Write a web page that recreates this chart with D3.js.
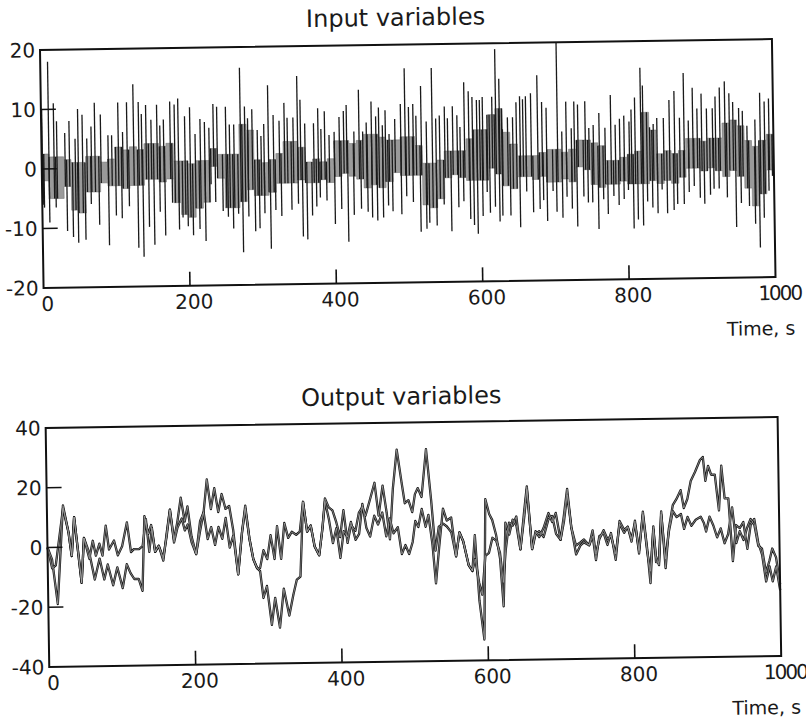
<!DOCTYPE html>
<html>
<head>
<meta charset="utf-8">
<script src="https://cdn.jsdelivr.net/npm/d3@7"></script>
<style>
  body { margin: 0; background: #fff; }
  text { font-family: "DejaVu Sans", sans-serif; fill: #1a1a1a; }
</style>
</head>
<body>
<svg id="chart" width="806" height="719"></svg>
<script>
// --- Data ---
const timeDomain = [0, 1000];
const timeTicks = [0, 200, 400, 600, 800, 1000];

const inputTicksY = [-20, -10, 0, 10, 20];
const outputTicksY = [-40, -20, 0, 20, 40];

// grey band of the input signals, one value per 10 s bin (upper / lower edge)
const inputBandHi = [2.5,2,2,1.5,1,1,2,2,1,1.5, 3.5,3,3.5,3,4,4,3.5,4,1,1, 0.5,1,1,3,2,2,2,7,6,1,
  0.5,1,2,4,4,3,0.5,1,0.5,1, 4,4,3.5,4,5,5,4.5,4,4,4.5, 4.5,3,0,0,0.5,2,2,2,4,5.5,
  5.5,8,9,5,3,1,1,1,1.5,2, 2,1.5,2,3.5,3.5,3,2.5,0,0,0.5, 1,1.5,8,5,1,1.5,1,1.5,3.5,3.5,
  3,3.5,3.5,6,6.5,5.5,3,2,3,4];
const inputBandLo = [-2,-5,-5,-3,-7,-7.5,-4,-4,-2.5,-3, -3,-3.5,-3,-3,-2,-2,-2.5,-2,-6,-8, -8.5,-7,-6,0,-2,-7,-7,-6,-4,-5,
  -5,-4.5,-3,-3,-3,-2.5,-3,-3,-2.5,-3, -2,-1.5,-2,-2.5,-4,-3.5,-4,-3,-1.5,-2, -2,-2,-7,-7.5,-6,-2.5,-2,-2.5,-3,-3,
  -3,-1,-2,-4,-4.5,-2.5,-2.5,-3,-2.5,-3.5, -3.5,-3,-3.5,-1,-1.5,-4,-4.5,-4,-4,-3.5, -4,-4,-4,-3.5,-4,-3.5,-4,-3,-1.5,-1.5,
  -2,-1.5,-2,-3,-2,-3,-5,-8,-6,-2];

// spike tips of the input signals [time, value]
const inputSpikesUp = [[1,10],[10,18],[17,11],[21,8],[32,6],[38,8],[46,5],[50,10],[56,9],[62,5],[68,7],[73,11],[81,9],[91,5.5],[96,5.5],
  [105,11],[111,6],[117,11],[126,14],[133,11],[137,9],[143,10.5],[150,8],[158,10.5],[162,7],[167,8],[176,11],[182,10.5],[187,11.5],
  [196,8.5],[203,10],[210,5.5],[217,8],[223,7.5],[229,6.5],[235,10.5],[240,10],[252,10],[257,7],[263,7],[272,16.5],[278,10],[282,8],
  [288,9.5],[295,6],[300,5],[304,7],[310,13.5],[317,8.5],[325,7.5],[332,10.5],[336,8],[344,8],[350,15],[354,11],[360,7],[372,7],
  [378,9.5],[382,6],[387,9],[393,5],[400,5.5],[407,8],[413,9],[417,10],[427,5.5],[434,12.5],[439,5.5],[444,7],[451,10.5],[457,8],
  [461,9.5],[466,6.5],[470,9],[475,5],[483,7.5],[491,10],[497,16],[502,9.5],[508,10],[512,8],[519,13],[526,7],[534,16],[539,7.5],
  [544,8],[551,9.5],[555,7.5],[562,9.5],[568,8],[572,6],[578,13.5],[584,12],[589,11],[595,10.5],[599,10.5],[603,11],[609,8],[616,11],
  [621,19],[626,14],[630,5.5],[637,7.5],[644,7.5],[649,10],[654,11],[658,10.5],[662,11],[669,11.5],[678,14.5],[684,10],[690,9],
  [705,21],[711,5],[717,10],[724,5.5],[728,10],[733,9.5],[743,10],[748,5.5],[754,6],[762,8],[770,5.5],[778,11],[784,6],[790,7],
  [796,7.5],[803,6.5],[806,8.5],[811,10.5],[819,15.5],[822,12.5],[831,5.5],[836,6],[841,7],[850,7],[858,10],[865,11.5],[872,7],
  [878,14.5],[884,6.5],[890,12],[896,8.5],[902,11],[909,8.5],[917,8.5],[921,10.5],[927,12],[934,13],[940,11],[945,9.5],[953,8.5],
  [958,8],[964,5.5],[975,6.5],[982,11],[988,9.5],[994,10]];
const inputSpikesDown = [[2,-6],[3,-6.5],[10,-9],[19,-6.5],[34,-10.5],[42,-11.5],[49,-12.5],[59,-12],[67,-6],[78,-9.5],[91,-13],
  [101,-8],[109,-8.5],[119,-6.5],[131,-13.5],[138,-15],[146,-10],[153,-13],[161,-7.5],[168,-11.5],[178,-6],[187,-10.5],[192,-8.5],
  [199,-10],[206,-11.5],[215,-10.5],[223,-12.5],[231,-3],[237,-6],[247,-7.5],[254,-8.5],[261,-10.5],[268,-8],[274,-14.5],[282,-8.5],
  [291,-11],[297,-10.5],[304,-8],[312,-14],[319,-7.5],[327,-8.5],[341,-7.5],[350,-6.5],[356,-12],[362,-12.5],[369,-8.5],[375,-7],
  [380,-5.5],[389,-6],[400,-10],[409,-7.5],[418,-13],[426,-8.5],[436,-7.5],[445,-8],[451,-9],[458,-9.5],[466,-9],[473,-7],[479,-8],
  [491,-8.5],[498,-5.5],[507,-6.5],[517,-11.5],[525,-11],[529,-10],[539,-10.5],[549,-7],[559,-11.5],[569,-7.5],[576,-6.5],[585,-9.5],
  [590,-10.5],[595,-12],[602,-9],[608,-5],[612,-8.5],[619,-7.5],[625,-10],[629,-9],[640,-9],[653,-11],[662,-5],[671,-8.5],[680,-8],
  [685,-6.5],[690,-10],[698,-5],[703,-8.5],[711,-9.5],[717,-6],[724,-8],[731,-11],[740,-6],[746,-7],[752,-7],[760,-11.5],[767,-6.5],
  [773,-9],[781,-6],[788,-7.5],[795,-6.5],[801,-5],[808,-11.5],[814,-10],[821,-11],[827,-7],[834,-8],[841,-9],[847,-5],[854,-9],
  [863,-8.5],[868,-7.5],[877,-7.5],[884,-5.5],[891,-4.5],[899,-6.5],[905,-7.5],[913,-6],[918,-5],[925,-5],[936,-6.5],[948,-11.5],
  [955,-7.5],[966,-8],[974,-11],[980,-15],[986,-10],[993,-5.5],[998,-3]];

// output variables [time, value]
const outputA = [[0,0],[6,-4],[13,-19],[22,14],[29,5],[33,-3],[37,10],[46,-12],[50,3],[57,-2],[64,-11],[71,-4],[77,-11],[82,-6],
  [89,-13],[95,-7],[102,-14],[108,-6],[113,-9],[118,-11],[124,-11],[129,-15],[133,10],[138,4],[142,7],[147,-2],[152,0],[158,-5],
  [163,4],[168,12],[173,2],[178,8],[183,16],[188,8],[192,13],[197,3],[203,-3],[209,8],[214,11],[219,22],[224,12],[229,19],[234,11],
  [239,17],[244,12],[249,13],[254,5],[260,-10],[266,4],[271,13],[276,2],[281,-5],[286,-8],[290,-9],[294,-18],[299,-14],[305,-27],
  [310,-18],[316,-28],[322,-15],[329,-24],[335,-17],[340,-12],[345,-11],[350,14],[355,4],[360,6],[365,-1],[371,-4],[376,5],[380,15],
  [385,12],[390,11],[395,7],[400,2],[405,11],[410,0],[415,6],[421,4],[426,10],[431,12],[435,9],[441,14],[448,20],[453,9],[459,19],
  [464,10],[468,1],[473,18],[479,31],[485,20],[489,13],[494,14],[499,10],[503,16],[507,18],[512,15],[519,31],[525,14],[530,-3],
  [535,5],[541,6],[546,5],[552,3],[558,-5],[563,3],[568,0],[575,-8],[580,-10],[584,2],[589,-20],[595,-33],[599,14],[604,9],[608,7],
  [613,2],[618,-6],[622,-22],[626,6],[631,2],[636,7],[641,5],[646,-3],[652,10],[656,18],[662,-3],[667,3],[672,1],[678,4],[685,9],
  [690,6],[695,9],[701,0],[706,8],[711,17],[716,4],[722,-5],[728,-2],[733,-1],[740,-2],[745,1],[749,-7],[754,1],[760,2],[765,-2],
  [770,2],[776,-7],[782,6],[788,3],[793,4],[798,-1],[803,6],[808,-5],[814,9],[819,-3],[823,-15],[828,4],[831,-8],[835,-8],[839,9],
  [844,-10],[849,3],[855,11],[860,13],[866,16],[870,10],[875,13],[880,19],[886,22],[893,26],[897,27],[900,19],[904,24],[908,21],
  [913,21],[918,9],[922,24],[926,13],[931,13],[936,-8],[941,4],[946,3],[951,5],[956,-4],[961,4],[966,6],[971,-2],[976,-6],[981,-15],
  [986,-10],[990,-15],[995,-10],[1000,-18]];
const outputB = [[0,0],[6,-7],[11,-6],[22,13],[29,5],[33,-3],[37,10],[46,-12],[50,3],[57,-4],[62,2],[66,-3],[71,1],[75,-3],[80,7],
  [84,-1],[91,2],[96,-3],[102,0],[109,8],[114,-2],[118,-1],[125,-1],[130,0],[135,9],[139,-2],[143,6],[147,-2],[152,0],[158,-4],
  [163,3],[168,12],[173,1],[178,6],[184,9],[188,5],[192,7],[197,1],[203,-3],[209,5],[214,11],[219,2],[224,6],[229,0],[234,6],[239,2],
  [244,9],[249,-1],[254,3],[260,-10],[266,4],[271,12],[276,2],[281,-5],[286,-8],[290,-8],[295,-2],[300,-5],[305,3],[310,-5],[314,6],
  [319,-5],[324,7],[329,2],[334,4],[340,3],[345,4],[350,14],[355,4],[360,6],[365,-1],[371,-4],[376,5],[380,14],[385,8],[390,0],
  [395,5],[400,-5],[405,4],[410,2],[415,7],[421,1],[426,3],[431,13],[436,5],[441,2],[447,9],[452,6],[458,10],[463,2],[468,8],[473,3],
  [479,5],[484,-4],[489,-1],[494,-4],[499,0],[503,7],[507,5],[512,11],[517,5],[521,9],[526,-1],[530,-14],[535,-2],[541,11],[546,7],
  [552,8],[558,-5],[563,3],[568,0],[575,-8],[580,-10],[584,-6],[589,-14],[593,-18],[598,-5],[603,-4],[608,1],[613,0],[618,-4],
  [622,-14],[626,-3],[631,6],[636,5],[641,8],[646,-3],[652,8],[656,17],[662,-3],[667,2],[672,3],[678,1],[685,7],[690,8],[695,2],
  [701,0],[706,6],[711,15],[716,4],[722,-2],[728,-1],[733,0],[740,-2],[745,3],[749,-5],[754,0],[760,3],[765,0],[770,1],[776,-5],
  [782,5],[788,2],[793,4],[798,0],[803,5],[808,-4],[814,8],[819,-4],[823,-11],[828,3],[831,-6],[835,-9],[839,8],[844,-7],[849,2],
  [855,9],[860,7],[866,8],[870,3],[875,7],[880,4],[886,6],[893,7],[897,5],[900,2],[905,7],[910,4],[915,0],[920,3],[925,-2],[930,1],
  [936,10],[941,-2],[946,2],[951,-1],[956,3],[961,6],[966,4],[971,-3],[976,-4],[981,-12],[986,-8],[990,-4],[995,-7],[1000,-16]];

// --- Setup ---
const svg = d3.select("#chart");
// the scan is slightly tilted
const root = svg.append("g").attr("transform", "rotate(-0.86,40,50)");

const x = d3.scaleLinear().domain(timeDomain).range([40, 772]);
const yIn = d3.scaleLinear().domain([-20, 20]).range([288, 50]);
const yOut = d3.scaleLinear().domain([-40, 40]).range([667, 428]);

// --- Frame, ticks and labels for one panel ---
function drawPanel(y, title, titleBaseline, yTicks) {
    const [bottom, top] = y.range();
    const g = root.append("g");

    g.append("text").attr("x", 396).attr("y", titleBaseline)
        .attr("text-anchor", "middle").style("font-size", "24px").text(title);

    g.append("rect").attr("x", x(0)).attr("y", top)
        .attr("width", x(1000) - x(0)).attr("height", bottom - top)
        .attr("fill", "none").attr("stroke", "#111").attr("stroke-width", 2);

    // inward ticks
    yTicks.slice(1, -1).forEach(v => {
        g.append("line").attr("x1", x(0)).attr("x2", x(0) + 15)
            .attr("y1", y(v)).attr("y2", y(v)).attr("stroke", "#111").attr("stroke-width", 1.6);
    });
    timeTicks.slice(1, -1).forEach(t => {
        g.append("line").attr("x1", x(t)).attr("x2", x(t))
            .attr("y1", bottom).attr("y2", bottom - 14).attr("stroke", "#111").attr("stroke-width", 1.6);
    });

    yTicks.forEach(v => {
        g.append("text").attr("x", 35).attr("y", y(v)).attr("dy", "0.36em")
            .attr("text-anchor", "end").style("font-size", "20px").text(v);
    });
    timeTicks.forEach(t => {
        g.append("text").attr("x", x(t) + 4).attr("y", bottom + 23)
            .attr("text-anchor", "middle").style("font-size", "20px")
            .style("letter-spacing", t >= 1000 ? "-2px" : null)
            .text(t);
    });
    g.append("text").attr("x", 791).attr("y", bottom + 58)
        .attr("text-anchor", "end").style("font-size", "19px").text("Time, s");
}

// --- Input panel ---
const binWidth = 10;
const band = inputBandHi.map((hi, i) => ({ t: i * binWidth, hi: hi, lo: inputBandLo[i] }));
band.push({ t: timeDomain[1], hi: inputBandHi[inputBandHi.length - 1], lo: inputBandLo[inputBandLo.length - 1] });

const inG = root.append("g");
inG.append("path").datum(band)
    .attr("d", d3.area().x(d => x(d.t)).y0(d => yIn(d.lo)).y1(d => yIn(d.hi)).curve(d3.curveStepAfter))
    .attr("fill", "#9a9a9a").attr("stroke", "#6a6a6a").attr("stroke-width", 0.5);

const binOf = t => band[Math.min(inputBandHi.length - 1, Math.floor(t / binWidth))];

inG.selectAll("line.up").data(inputSpikesUp).enter().append("line")
    .attr("class", "up")
    .attr("x1", d => x(d[0])).attr("x2", d => x(d[0]))
    .attr("y1", d => yIn(binOf(d[0]).lo)).attr("y2", d => yIn(Math.min(d[1], 20)))
    .attr("stroke", "#1a1a1a").attr("stroke-width", 1.3);

inG.selectAll("line.down").data(inputSpikesDown).enter().append("line")
    .attr("class", "down")
    .attr("x1", d => x(d[0])).attr("x2", d => x(d[0]))
    .attr("y1", d => yIn(binOf(d[0]).hi)).attr("y2", d => yIn(d[1]))
    .attr("stroke", "#1a1a1a").attr("stroke-width", 1.3);

drawPanel(yIn, "Input variables", 31, inputTicksY);

// --- Output panel ---
const line = d3.line().x(d => x(d[0])).y(d => yOut(d[1]));
const outG = root.append("g");
[outputA, outputB].forEach(series => {
    outG.append("path").datum(series).attr("d", line)
        .attr("fill", "none").attr("stroke", "#151515").attr("stroke-width", 2.3)
        .attr("stroke-linejoin", "round");
});
[outputA, outputB].forEach(series => {
    outG.append("path").datum(series).attr("d", line)
        .attr("fill", "none").attr("stroke", "#a8a8a8").attr("stroke-width", 0.7)
        .attr("stroke-linejoin", "round");
});

drawPanel(yOut, "Output variables", 410, outputTicksY);
</script>
</body>
</html>
